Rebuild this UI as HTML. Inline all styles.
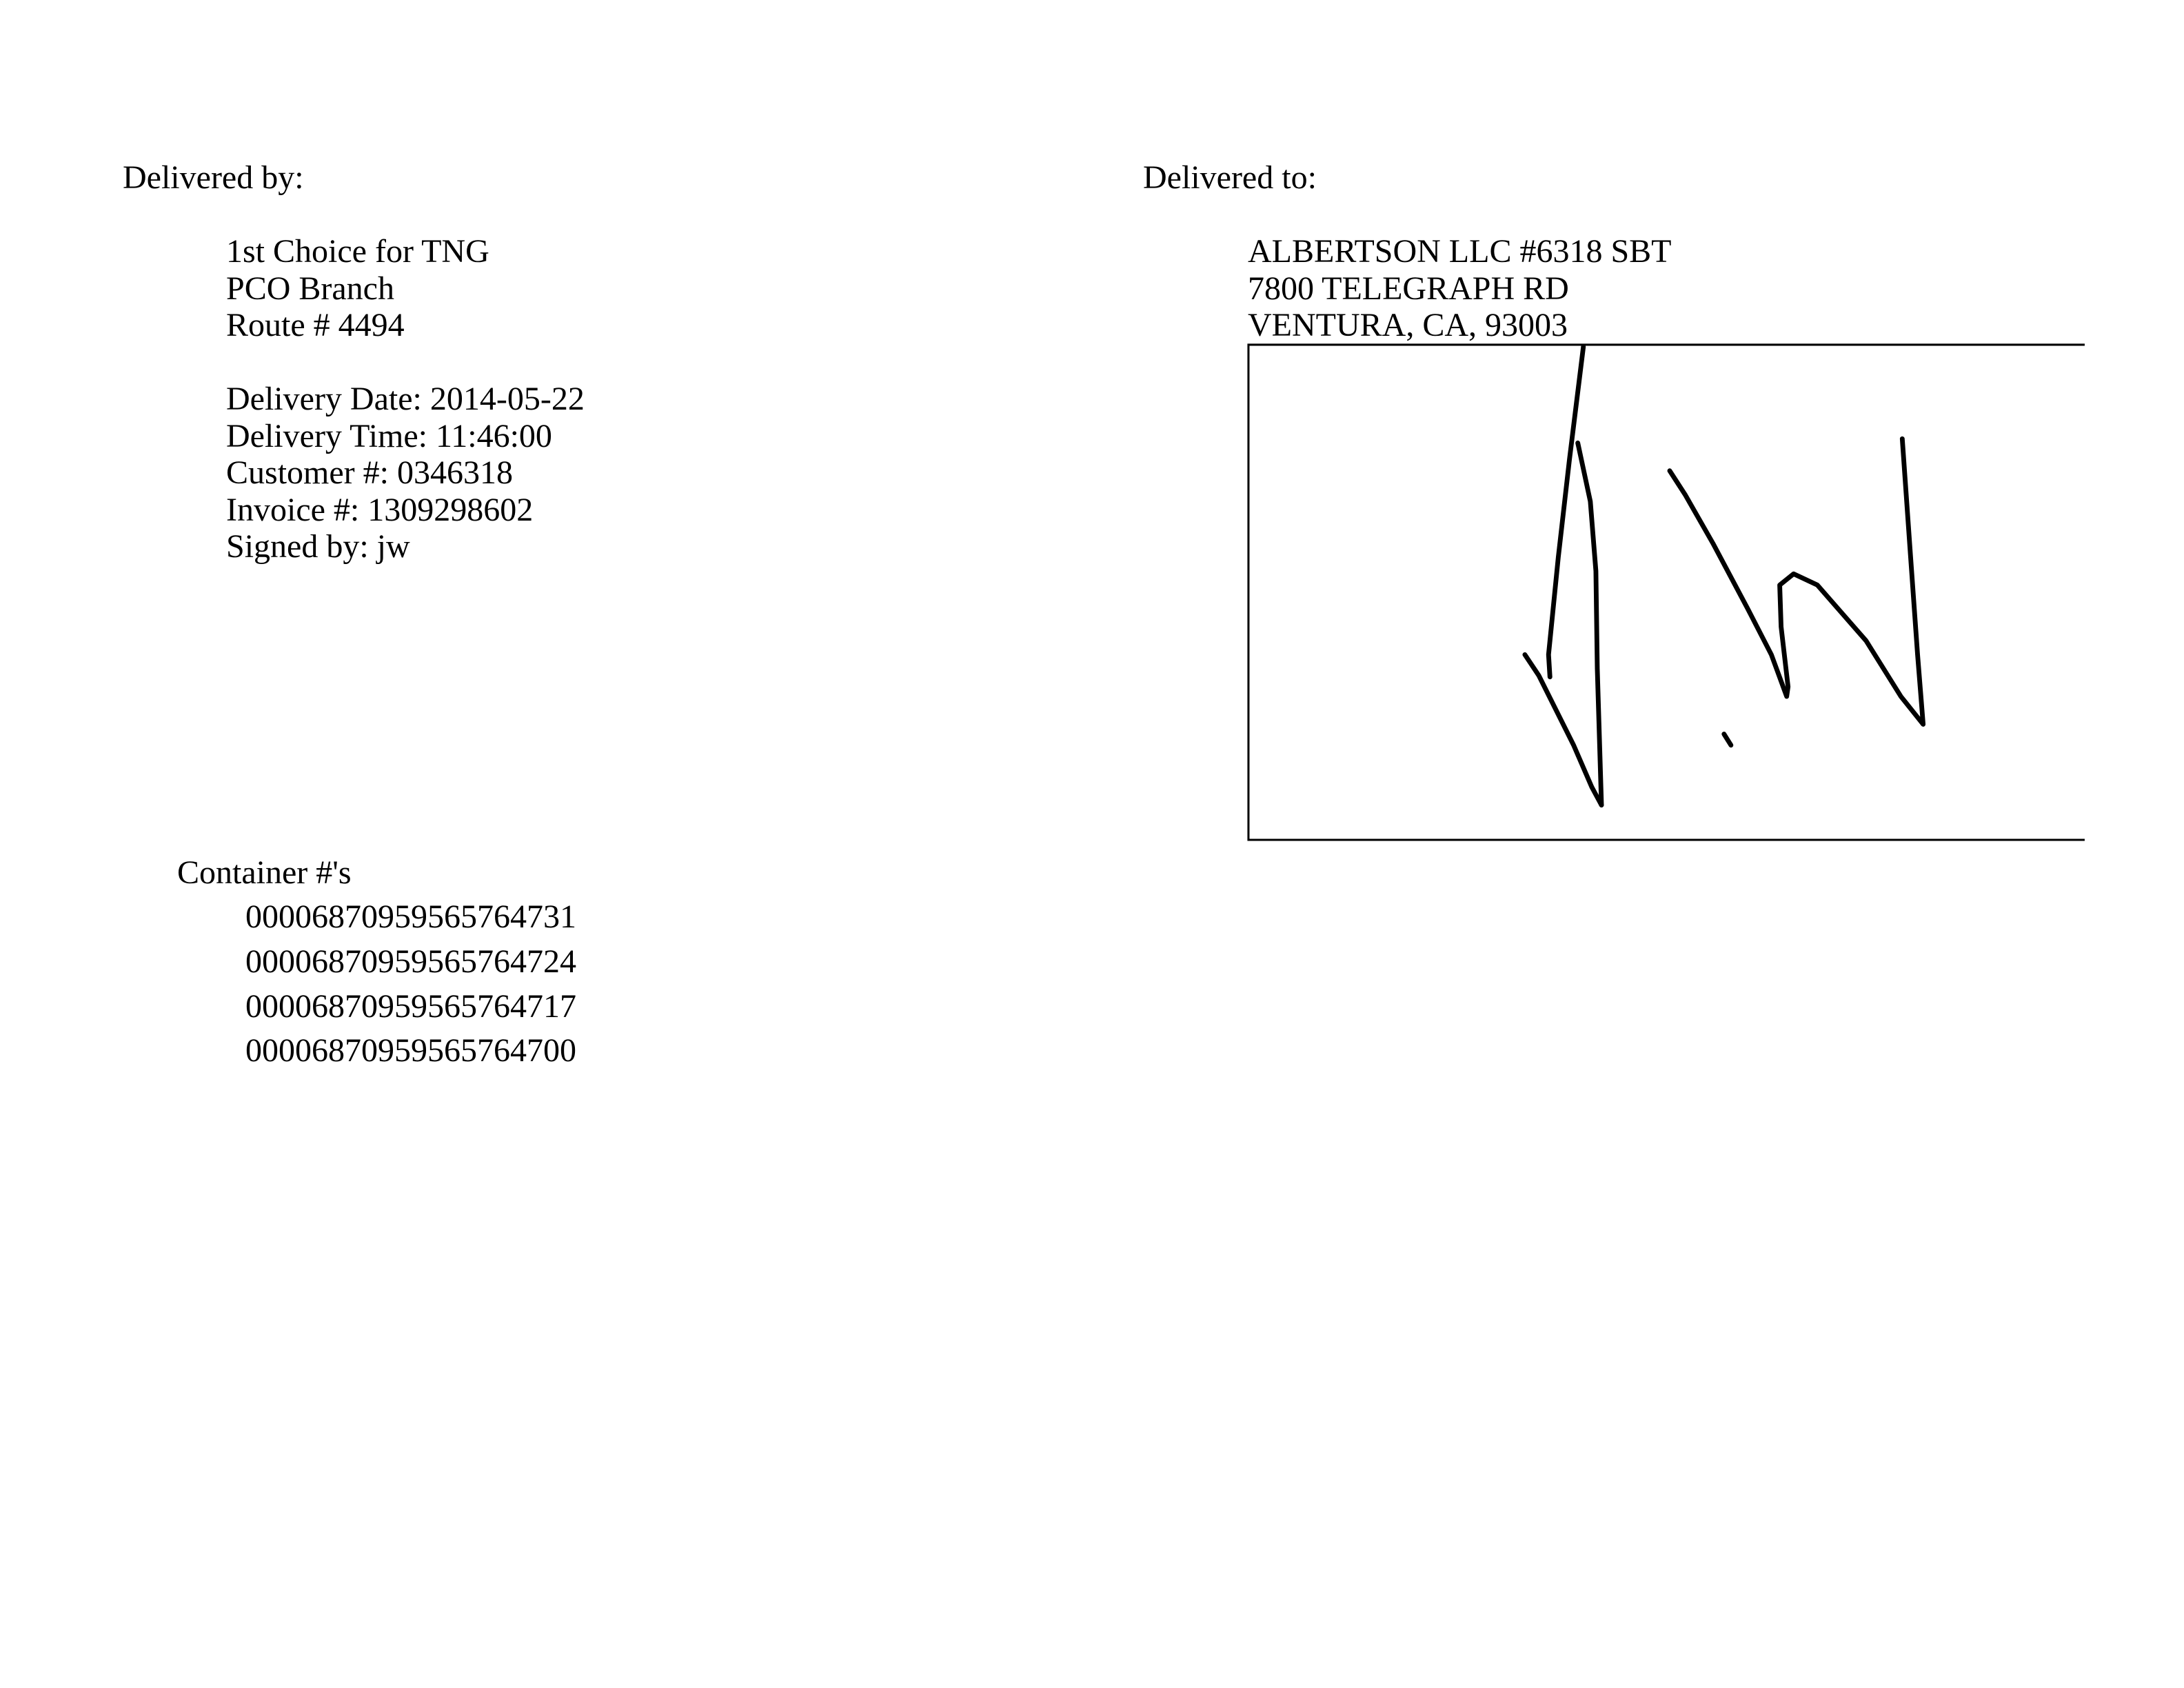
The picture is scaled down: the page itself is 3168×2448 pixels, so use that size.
<!DOCTYPE html>
<html><head><meta charset="utf-8"><style>
html,body{margin:0;padding:0;background:#fff;}
body{width:3168px;height:2448px;position:relative;overflow:hidden;font-family:"Liberation Serif",serif;font-size:48px;color:#000;}
.t{position:absolute;white-space:nowrap;line-height:1;}
</style></head><body>
<div class="t" style="left:178px;top:234px">Delivered by:</div>
<div class="t" style="left:328px;top:341px">1st Choice for TNG</div>
<div class="t" style="left:328px;top:395px">PCO Branch</div>
<div class="t" style="left:328px;top:448px">Route # 4494</div>
<div class="t" style="left:328px;top:555px">Delivery Date: 2014-05-22</div>
<div class="t" style="left:328px;top:609px">Delivery Time: 11:46:00</div>
<div class="t" style="left:328px;top:662px">Customer #: 0346318</div>
<div class="t" style="left:328px;top:716px">Invoice #: 1309298602</div>
<div class="t" style="left:328px;top:769px">Signed by: jw</div>

<div class="t" style="left:1658px;top:234px">Delivered to:</div>
<div class="t" style="left:1810px;top:341px">ALBERTSON LLC #6318 SBT</div>
<div class="t" style="left:1810px;top:395px">7800 TELEGRAPH RD</div>
<div class="t" style="left:1810px;top:448px">VENTURA, CA, 93003</div>

<div class="t" style="left:257px;top:1242px">Container #'s</div>
<div class="t" style="left:356px;top:1306px">00006870959565764731</div>
<div class="t" style="left:356px;top:1371px">00006870959565764724</div>
<div class="t" style="left:356px;top:1436px">00006870959565764717</div>
<div class="t" style="left:356px;top:1500px">00006870959565764700</div>

<svg style="position:absolute;left:0;top:0" width="3168" height="2448" viewBox="0 0 1568.3 1211.9">
<path d="M1497 247.5 H896.5 V603 H1497" fill="none" stroke="#000" stroke-width="1.5"/>
<g fill="none" stroke="#000" stroke-width="3.4" stroke-linecap="round" stroke-linejoin="round">
<path d="M1137 249 L1127 330 L1119 400 L1112 470 L1113 486"/>
<path d="M1133 318 L1142 360 L1146 410 L1147 480 L1150 578"/>
<path d="M1095 470 L1105 485 L1130 535 L1143 565 L1150 578"/>
<path d="M1238 527 L1243 535"/>
<path d="M1199 338 L1210 355 L1230 390 L1255 437 L1272 470 L1283 500 L1284 493 L1279 450 L1278 420 L1288 412 L1305 420 L1340 460 L1365 500 L1381 520 L1377 470 L1372 400 L1366 315"/>
</g>
</svg>
</body></html>
